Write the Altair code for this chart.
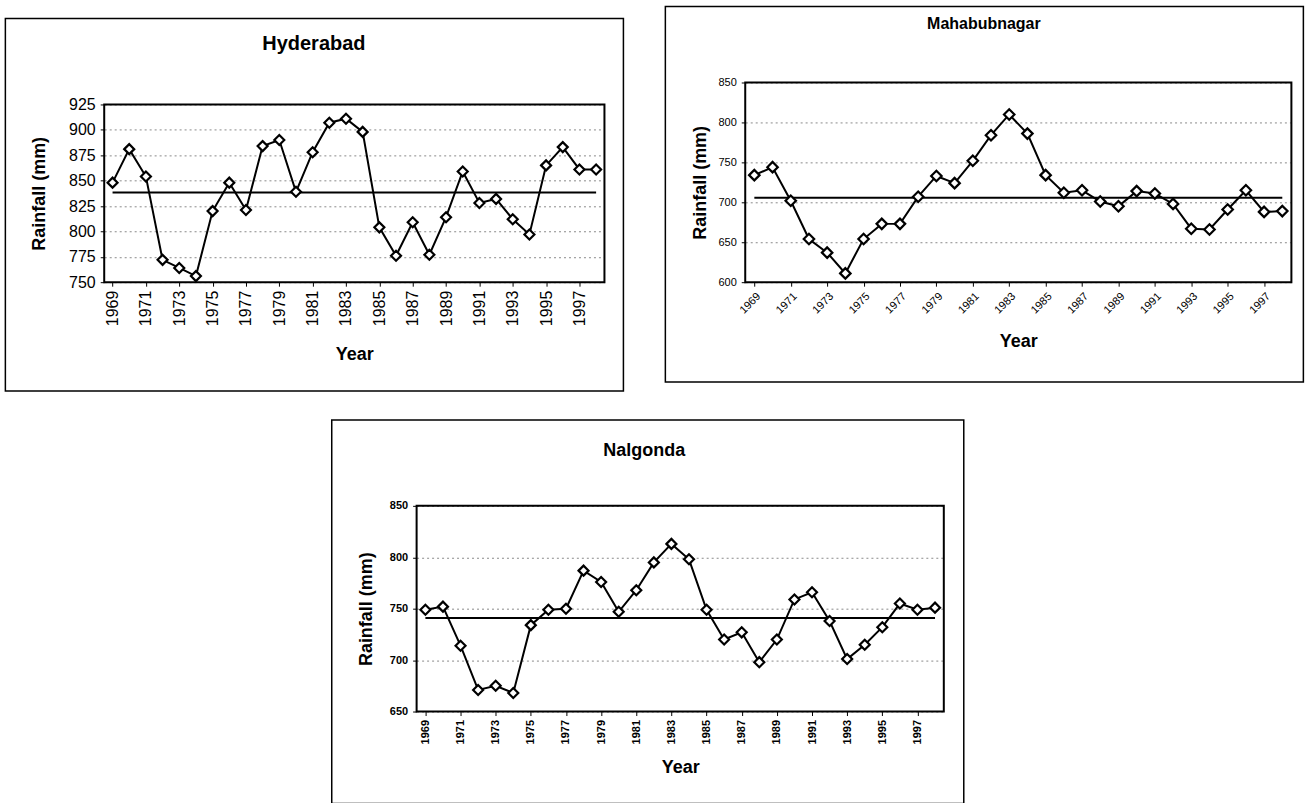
import altair as alt
import pandas as pd

# ---------------- data ----------------
years = list(range(1969, 1999))
year_ticks = list(range(1969, 1998, 2))

hyderabad = [848, 881, 854, 772, 764, 756, 820, 848, 821, 884,
             890, 839, 878, 907, 911, 898, 804, 776, 809, 777,
             814, 859, 828, 832, 812, 797, 865, 883, 861, 861]

mahabubnagar = [734, 744, 702, 654, 637, 611, 654, 673, 673, 707,
                733, 724, 752, 784, 810, 786, 734, 712, 715, 701,
                695, 714, 711, 698, 667, 666, 691, 715, 688, 689]

nalgonda = [749, 752, 714, 671, 675, 668, 734, 749, 750, 787,
            776, 747, 768, 795, 813, 798, 749, 720, 727, 698,
            720, 759, 766, 738, 701, 715, 732, 755, 749, 751]

hyd_ticks = [750, 775, 800, 825, 850, 875, 900, 925]
mah_ticks = [600, 650, 700, 750, 800, 850]
nal_ticks = [650, 700, 750, 800, 850]

FONT = "Liberation Sans"


def panel(name, values, yticks, w, h, frame, title_pos, title_size,
          tick_size, tick_bold, x_angle, x_label_size, ytitle_x, xtitle_y,
          marker_size, plot_top=0, right_spacer=0):
    df = pd.DataFrame({"Year": years, "Rainfall": values})
    one = pd.DataFrame({"k": [0]})

    x_axis = alt.Axis(
        values=year_ticks, format="d", labelAngle=x_angle,
        labelFontSize=x_label_size, labelFont=FONT,
        labelFontWeight="bold" if tick_bold else "normal",
        labelColor="black", labelPadding=4, tickSize=4, tickColor="black",
        domain=False, grid=False, labelOverlap=False,
        title="Year", titleFont=FONT, titleFontSize=18, titleFontWeight="bold",
        titleColor="black", titleX=w / 2, titleY=xtitle_y,
        titleBaseline="middle", titleAlign="center",
    )
    y_axis = alt.Axis(
        values=yticks, labelFontSize=tick_size, labelFont=FONT,
        labelFontWeight="bold" if tick_bold else "normal",
        labelColor="black", labelPadding=5, tickSize=4, tickColor="black",
        domain=False, grid=True, gridColor="#8a8a8a", gridDash=[2, 3],
        gridWidth=1,
        title="Rainfall (mm)", titleFont=FONT, titleFontSize=18,
        titleFontWeight="bold", titleColor="black", titleX=ytitle_x,
        titleY=(h + plot_top) / 2, titleAngle=270, titleBaseline="middle",
        titleAlign="center",
    )
    yscale = alt.Scale(domain=[yticks[0], yticks[-1]], nice=False,
                       zero=False, range=[h, plot_top])
    x = alt.X("Year:Q", scale=alt.Scale(domain=[1968.5, 1998.5], nice=False,
                                        zero=False), axis=x_axis)
    y = alt.Y("Rainfall:Q", scale=yscale, axis=y_axis)

    base = alt.Chart(df)
    mean_line = base.transform_joinaggregate(
        Mean="mean(Rainfall)"
    ).mark_line(color="black", strokeWidth=2).encode(
        x=x, y=alt.Y("Mean:Q", axis=y_axis, scale=yscale))
    series = base.mark_line(color="black", strokeWidth=2).encode(x=x, y=y)
    points = base.mark_point(shape="diamond", filled=True, fill="white",
                             stroke="black", strokeWidth=2.2, opacity=1,
                             size=marker_size).encode(x=x, y=y)

    fl, fr, ft, fb = frame
    border = alt.Chart(one).mark_rect(
        fill="transparent", stroke="black", strokeWidth=1.5
    ).encode(x=alt.value(fl), x2=alt.value(fr), y=alt.value(ft),
             y2=alt.value(fb))
    plot_box = alt.Chart(one).mark_rect(
        fill="transparent", stroke="black", strokeWidth=2
    ).encode(x=alt.value(0), x2=alt.value(w), y=alt.value(plot_top),
             y2=alt.value(h))
    layers = [border]
    if right_spacer:
        spacer = alt.Chart(one).mark_rect(opacity=0).encode(
            x=alt.value(fr), x2=alt.value(fr + right_spacer),
            y=alt.value(ft), y2=alt.value(ft + 1))
        layers.append(spacer)
    title = alt.Chart(one).mark_text(
        text=name, font=FONT, fontSize=title_size, fontWeight="bold",
        color="black", align="center", baseline="middle"
    ).encode(x=alt.value(title_pos[0]), y=alt.value(title_pos[1]))
    layers += [title, mean_line, series, points, plot_box]
    return alt.layer(*layers).properties(width=w, height=h)


hyd = panel("Hyderabad", hyderabad, hyd_ticks, 501, 200,
            frame=(-99, 520, -64, 309), title_pos=(210, -39), title_size=20,
            tick_size=16, tick_bold=False, x_angle=270, x_label_size=16,
            ytitle_x=-65, xtitle_y=72, marker_size=100, plot_top=22)

mah = panel("Mahabubnagar", mahabubnagar, mah_ticks, 547, 200,
            frame=(-80, 559, -76, 300), title_pos=(239, -59), title_size=16,
            tick_size=11, tick_bold=False, x_angle=315, x_label_size=11,
            ytitle_x=-45, xtitle_y=59, marker_size=110)

nal = panel("Nalgonda", nalgonda, nal_ticks, 528, 206,
            frame=(-85, 548, -86, 298), title_pos=(228, -55), title_size=18,
            tick_size=11, tick_bold=True, x_angle=270, x_label_size=11,
            ytitle_x=-50, xtitle_y=56, marker_size=100, right_spacer=28)

top_row = alt.hconcat(hyd, mah, spacing=38)
chart = alt.vconcat(top_row, nal, spacing=25, center=True).properties(
    padding={"left": 4, "top": 4, "right": 0, "bottom": 0},
    background="white",
).configure_view(stroke="transparent")

chart.save("out.html", embed_options={"renderer": "svg", "actions": False})
